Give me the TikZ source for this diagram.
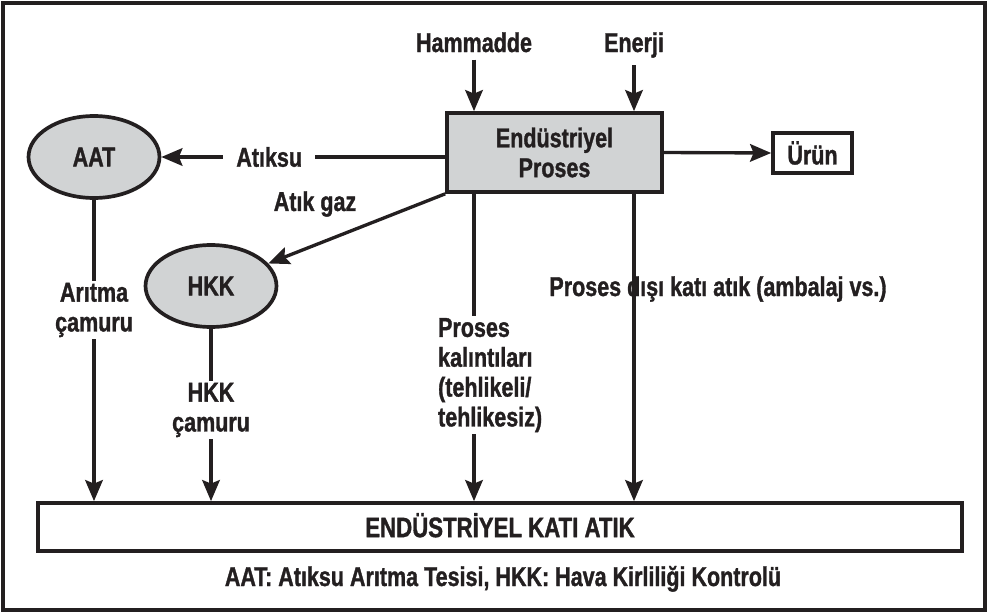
\documentclass[tikz,border=0pt]{standalone}
\usepackage{fontspec}
\setmainfont{Liberation Sans}[FakeStretch=0.79, FakeBold=1.2, UprightFont={* Bold}, BoldFont={* Bold}]
\usetikzlibrary{arrows.meta,shapes.geometric}
\definecolor{ink}{HTML}{231F20}
\definecolor{boxgray}{HTML}{D1D3D4}

\begin{document}
\begin{tikzpicture}[x=0.02cm,y=-0.02cm,
        every node/.style={font=\bfseries\fontsize{15.5}{17}\selectfont, text=ink, inner sep=1pt},
        akis/.style={draw=ink, line width=1.9pt, -{Stealth[length=12pt,width=10pt,inset=2pt]}},
        kutu/.style={rectangle, draw=ink, line width=2.1pt},
        tesis/.style={ellipse, draw=ink, fill=boxgray, line width=2.1pt, minimum width=2.62cm, minimum height=1.64cm},
        etiket/.style={fill=white, align=center}]
        \useasboundingbox (0,0) rectangle (989,615);
        \draw[ink, line width=2.1pt] (3,3) rectangle (985,610);
        % girdiler ve proses
        \node[anchor=base, inner sep=4pt] (ham) at (474,52) {Hammadde};
        \node[anchor=base, inner sep=4pt] (enr) at (634,52) {Enerji};
        \node[kutu, fill=boxgray, minimum width=4.3cm, minimum height=1.58cm, align=center] (proc) at (554.5,152.5) {Endüstriyel\\Proses};
        \node[kutu, minimum width=1.58cm, minimum height=0.8cm] (urun) at (812.5,153) {Ürün};
        \node[tesis] (aat) at (94,157) {AAT};
        \node[tesis] (hkk) at (211,286) {HKK};
        \node[kutu, minimum width=18.48cm, minimum height=0.96cm, text height=11.5pt, text depth=0pt, font=\bfseries\fontsize{16}{18}\selectfont] (kati) at (500,527) {ENDÜSTRİYEL KATI ATIK};
        \node[anchor=base] (dipnot) at (503,586) {AAT: Atıksu Arıtma Tesisi, HKK: Hava Kirliliği Kontrolü};
        % akislar
        \draw[akis] (ham.south) -- (ham.south |- proc.north);
        \draw[akis] (enr.south) -- (enr.south |- proc.north);
        \draw[akis] (proc.east) -- (urun.west);
        \draw[akis] (proc.west |- aat) -- node[etiket, pos=0.62, inner xsep=0.26cm] (atiksu) {Atıksu} (aat.east);
        \draw[akis] (proc.south west) -- (hkk);
        \node (gaz) at (315,204) {Atık gaz};
        \draw[akis] (aat.south) -- (aat.south |- kati.north);
        \draw[akis] (hkk.south) -- (hkk.south |- kati.north);
        \draw[akis] (ham.south |- proc.south) -- (ham.south |- kati.north);
        \draw[akis] (enr.south |- proc.south) -- (enr.south |- kati.north);
        % etiketler
        \node[etiket] (arcam) at (94,310) {Arıtma\\çamuru};
        \node[etiket] (hkkcam) at (211,410) {HKK\\çamuru};
        \node[etiket, align=left, anchor=north west] (kal) at (436,316) {Proses\\kalıntıları\\(tehlikeli/\\tehlikesiz)};
        \node[anchor=base] (dis) at (718,296) {Proses dışı katı atık (ambalaj vs.)};
    \end{tikzpicture}
\end{document}
